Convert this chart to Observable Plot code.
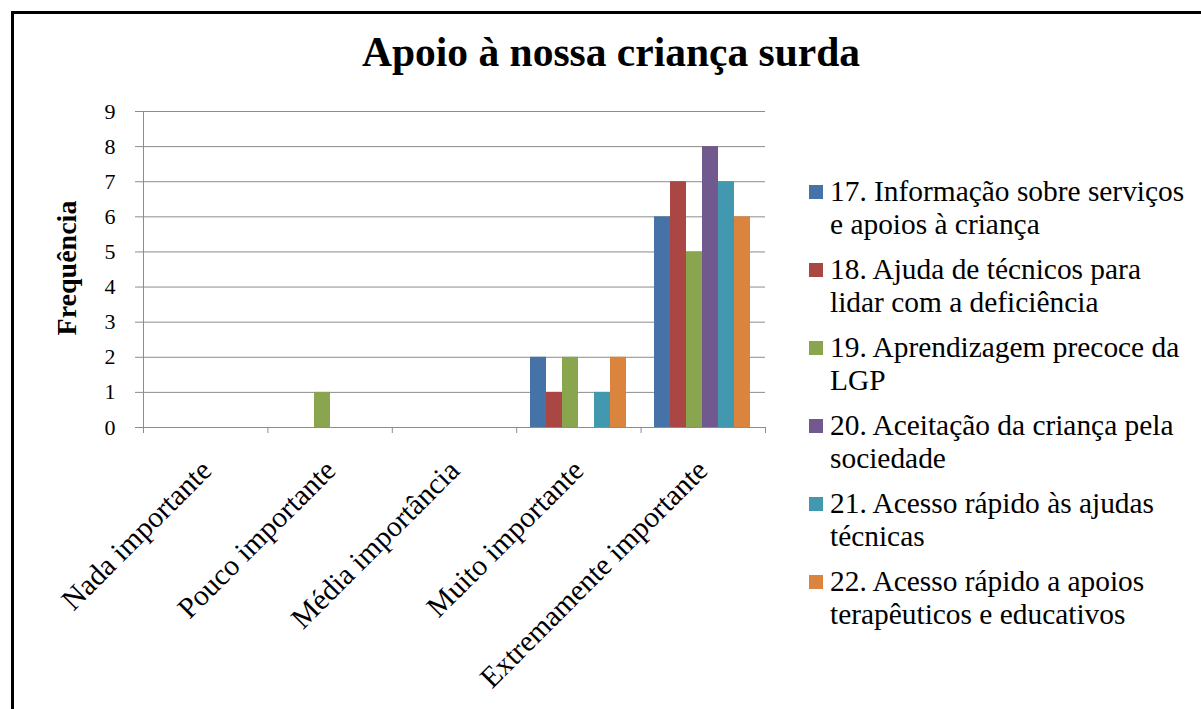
<!DOCTYPE html>
<html>
<head>
<meta charset="utf-8">
<script src="https://cdn.jsdelivr.net/npm/d3@7"></script>
<script src="https://cdn.jsdelivr.net/npm/@observablehq/plot@0.6"></script>
<style>
  html, body { margin: 0; padding: 0; background: #fff; }
  #wrap { position: relative; width: 1201px; height: 709px; overflow: hidden; background: #fff; }
  #border { position: absolute; left: 11px; top: 11px; width: 1300px; height: 800px;
            border-left: 3px solid #000; border-top: 3px solid #000; }
  #title { position: absolute; left: 0; width: 1222px; top: 28px; text-align: center;
           font-family: "Liberation Serif", serif; font-weight: bold; font-size: 41.5px; color: #000; }
  #ylabel { position: absolute; left: 67px; top: 268px; transform: translate(-50%, -50%) rotate(-90deg);
            font-family: "Liberation Serif", serif; font-weight: bold; font-size: 28px; white-space: nowrap; color:#000; }
  .layer { position: absolute; left: 0; top: 0; }
  #legend { position: absolute; left: 809px; top: 175px; width: 385px;
            font-family: "Liberation Serif", serif; font-size: 29.4px; line-height: 33px; color: #000; }
  .item { position: relative; padding-left: 21px; margin-bottom: 12px; }
  .sw { position: absolute; left: 0; top: 10px; width: 14px; height: 14px; }
</style>
</head>
<body>
<div id="wrap">
  <div id="border"></div>
  <div id="title"></div>
  <div id="ylabel"></div>
  <div id="layerA" class="layer"></div>
  <div id="layerB" class="layer"></div>
  <div id="legend"></div>
</div>
<script>
const title = "Apoio à nossa criança surda";
const yLabel = "Frequência";
const categories = ["Nada importante", "Pouco importante", "Média importância", "Muito importante", "Extremamente importante"];
const seriesNames = [
  "17. Informação sobre serviços e apoios à criança",
  "18. Ajuda de técnicos para lidar com a deficiência",
  "19. Aprendizagem precoce da LGP",
  "20. Aceitação da criança pela sociedade",
  "21. Acesso rápido às ajudas técnicas",
  "22. Acesso rápido a apoios terapêuticos e educativos"
];
const colors = ["#4572A7", "#AA4643", "#89A54E", "#71588F", "#4198AF", "#DB843D"];
const s17 = [0, 0, 0, 2, 6];
const s18 = [0, 0, 0, 1, 7];
const s19 = [0, 1, 0, 2, 5];
const s20 = [0, 0, 0, 0, 8];
const s21 = [0, 0, 0, 1, 7];
const s22 = [0, 0, 0, 2, 6];
const yTicks = [0, 1, 2, 3, 4, 5, 6, 7, 8, 9];

const seriesValues = [s17, s18, s19, s20, s21, s22];
const rows = [];
seriesNames.forEach((s, si) => categories.forEach((c, ci) => rows.push({cat: c, series: s, value: seriesValues[si][ci]})));

const W = 1201, H = 709;
const margins = {marginLeft: 143, marginRight: 436, marginTop: 111, marginBottom: 282};
const gridColor = "#8c8c8c";

document.getElementById("title").textContent = title;
document.getElementById("ylabel").textContent = yLabel;

// Background layer: grid, y axis, category boundary ticks
const plotA = Plot.plot({
  width: W, height: H, ...margins,
  style: {fontFamily: "Liberation Serif", fontSize: "22px", background: "transparent", color: "#000"},
  x: {domain: [0, categories.length]},
  y: {domain: [0, 9]},
  marks: [
    Plot.ruleY(yTicks, {stroke: gridColor, strokeWidth: 1}),
    Plot.ruleX([0], {stroke: gridColor, strokeWidth: 1}),
    Plot.axisY({ticks: yTicks, tickSize: 8, tickPadding: 20, stroke: gridColor, label: null}),
    Plot.axisX({ticks: d3.range(categories.length + 1), tickSize: 6, tickFormat: () => "", stroke: gridColor, label: null})
  ]
});
document.getElementById("layerA").appendChild(plotA);

// Bars layer: grouped bars by facet
const plotB = Plot.plot({
  width: W, height: H, ...margins,
  style: {fontFamily: "Liberation Serif", fontSize: "29.5px", background: "transparent", color: "#000"},
  facet: {data: rows, x: "cat"},
  fx: {domain: categories, padding: 0, axis: "bottom", tickRotate: -45, tickSize: 0, tickPadding: 38, label: null},
  x: {domain: seriesNames, paddingInner: 0, paddingOuter: 0.76, axis: null},
  y: {domain: [0, 9], axis: null},
  color: {domain: seriesNames, range: colors},
  marks: [
    Plot.barY(rows, {x: "series", y: "value", fill: "series"})
  ]
});
document.getElementById("layerB").appendChild(plotB);

// Legend
const legend = document.getElementById("legend");
seriesNames.forEach((s, i) => {
  const it = document.createElement("div");
  it.className = "item";
  const sw = document.createElement("span");
  sw.className = "sw";
  sw.style.background = colors[i];
  it.appendChild(sw);
  it.appendChild(document.createTextNode(s));
  legend.appendChild(it);
});
</script>
</body>
</html>
